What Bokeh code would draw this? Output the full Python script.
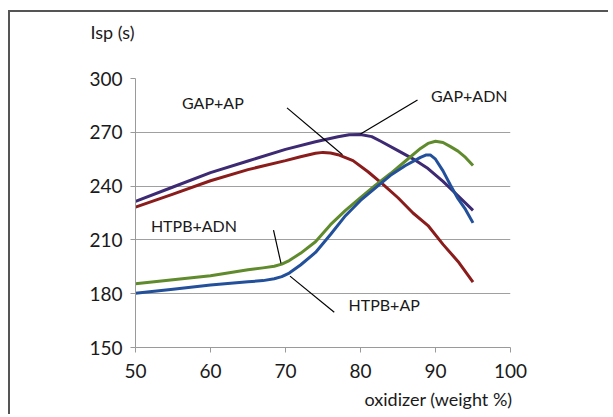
from bokeh.plotting import figure
from bokeh.models import Label, FixedTicker, Range1d, Title
from bokeh.embed import file_html
from bokeh.resources import INLINE

# ---- data ----
x_ticks = [50, 60, 70, 80, 90, 100]
y_ticks = [150, 180, 210, 240, 270, 300]

gap_adn_x = [50, 55, 60, 65, 70, 74, 77, 78.5, 80, 81.5, 82.7, 85, 87, 89, 91, 93, 95]
gap_adn_y = [231.5, 239.5, 247.5, 254, 260.5, 264.7, 267.5, 268.6, 268.8, 267.6, 265, 259.8, 255.2, 249.8, 242.6, 234.6, 226.5]

gap_ap_x = [50, 55, 60, 65, 70, 72, 74, 75, 76, 77, 79, 81, 83, 85, 87, 89, 91, 93, 95]
gap_ap_y = [228.3, 235.5, 243, 249.2, 254.2, 256.4, 258.3, 258.8, 258.5, 257.5, 254.2, 248, 241, 233.5, 225, 218, 207.5, 198, 186.5]

htpb_adn_x = [50, 55, 60, 65, 67, 68.5, 69.5, 70.5, 72, 74, 76, 78, 80, 82, 84, 86, 88, 89, 90, 91, 92, 93, 94, 95]
htpb_adn_y = [185.5, 187.8, 190, 193.3, 194.4, 195.3, 196.5, 198.5, 202.5, 209, 218.5, 226.5, 233.5, 240.5, 247, 254, 261, 263.8, 265, 264.3, 262, 259.5, 256, 251.5]

htpb_ap_x = [50, 55, 60, 65, 67, 68.5, 69.5, 70.5, 72, 74, 76, 78, 80, 82, 84, 86, 88, 88.7, 89.3, 90, 91, 92, 93, 94, 95]
htpb_ap_y = [180.2, 182.5, 184.8, 186.6, 187.3, 188.3, 189.5, 191.5, 196, 203, 213, 223.5, 232, 239, 246, 251.5, 256, 257.3, 257.4, 255, 248.5, 240.5, 233, 227, 219.5]

# leader lines (from label towards curve)
leaders = {
    "GAP+AP": ([70.2, 77.6], [283.6, 257.5]),
    "GAP+ADN": ([87.6, 80.0], [288.0, 269.0]),
    "HTPB+ADN": ([68.4, 69.4], [215.4, 196.9]),
    "HTPB+AP": ([70.6, 76.5], [189.8, 169.7]),
}
label_pos = {
    "GAP+AP": (56.2, 286.5),
    "GAP+ADN": (89.4, 290.4),
    "HTPB+ADN": (52.05, 218.2),
    "HTPB+AP": (78.4, 173.7),
}
y_title = "Isp (s)"
x_title = "oxidizer (weight %)"

FONT = "Lato"
TXT = "#1a1a1a"

p = figure(width=600, height=404, output_backend="svg", toolbar_location=None,
           x_range=Range1d(50, 100), y_range=Range1d(150, 300),
           min_border_left=125, min_border_right=100, min_border_top=66, min_border_bottom=69)
p.styles = {"margin-left": "8px", "margin-top": "10px",
            "border-left": "2px solid #555555", "border-top": "2px solid #555555"}
p.outline_line_color = None
p.background_fill_color = "white"
p.border_fill_color = "white"

p.xgrid.grid_line_color = None
p.ygrid.grid_line_color = "#a0a0a0"
p.ygrid.grid_line_width = 1
p.xaxis.ticker = FixedTicker(ticks=x_ticks)
p.yaxis.ticker = FixedTicker(ticks=y_ticks)
for ax in (p.xaxis, p.yaxis):
    ax.axis_line_color = "#9a9a9a"
    ax.major_tick_line_color = "#9a9a9a"
    ax.major_tick_out = 5
    ax.major_tick_in = 0
    ax.minor_tick_line_color = None
    ax.major_label_text_font = FONT
    ax.major_label_text_font_size = "19px"
    ax.major_label_text_color = TXT
p.xaxis.major_label_standoff = 11
p.yaxis.major_label_standoff = 8

p.line(gap_adn_x, gap_adn_y, line_color="#3d2a73", line_width=3, line_join="round")
p.line(gap_ap_x, gap_ap_y, line_color="#8b1c1c", line_width=3, line_join="round")
p.line(htpb_adn_x, htpb_adn_y, line_color="#5f8b2d", line_width=3, line_join="round")
p.line(htpb_ap_x, htpb_ap_y, line_color="#23509a", line_width=3, line_join="round")

for name, (lx, ly) in leaders.items():
    p.line(lx, ly, line_color="black", line_width=1.2)
for name, (tx, ty) in label_pos.items():
    p.add_layout(Label(x=tx, y=ty, text=name, text_font=FONT, text_font_size="16px",
                       text_color=TXT, text_baseline="middle", text_align="left"))

# axis titles live in the side panels (annotations in the centre are clipped to the frame)
p.add_layout(Title(text=" ", text_font_size="10px", standoff=23), "above")
p.add_layout(Title(text=y_title, align="left", offset=-45, standoff=0, text_font=FONT,
                   text_font_size="18px", text_font_style="normal", text_color=TXT), "above")
p.add_layout(Title(text=x_title, align="right", offset=-2, standoff=10, text_font=FONT,
                   text_font_size="18px", text_font_style="normal", text_color=TXT), "below")

open("out.html", "w").write(file_html(p, INLINE))
